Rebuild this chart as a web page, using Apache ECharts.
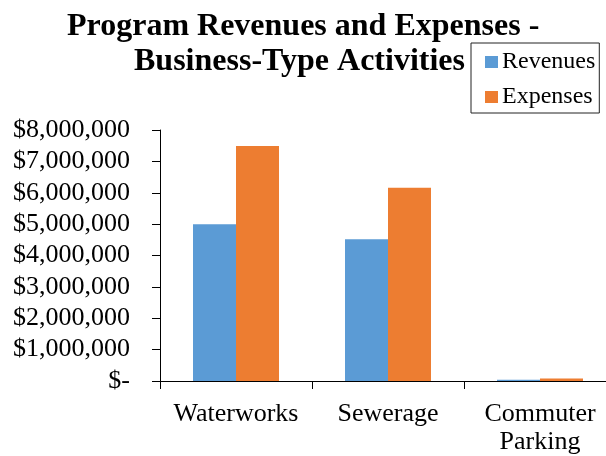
<!DOCTYPE html>
<html>
<head>
<meta charset="utf-8">
<script src="https://cdn.jsdelivr.net/npm/echarts@6/dist/echarts.min.js"></script>
<style>
  html, body { margin: 0; padding: 0; background: #fff; }
  #chart { width: 606px; height: 456px; }
</style>
</head>
<body>
<div id="chart"></div>
<script>
  // data
  const categories = ['Waterworks', 'Sewerage', 'Commuter\nParking'];
  const revenues = [5000000, 4520000, 40000];
  const expenses = [7490000, 6160000, 80000];
  const seriesNames = ['Revenues', 'Expenses'];

  const serif = '"Liberation Serif", "Times New Roman", serif';

  let mycharts = echarts.init(document.getElementById('chart'));
  mycharts.setOption({
    animation: false,
    title: [
      {
        text: 'Program Revenues and Expenses -',
        left: 62, top: 6,
        textStyle: { fontFamily: serif, fontSize: 32, fontWeight: 'bold', color: '#000' }
      },
      {
        text: 'Business-Type Activities',
        left: 129, top: 41,
        textStyle: { fontFamily: serif, fontSize: 32, fontWeight: 'bold', color: '#000' }
      }
    ],
    legend: {
      orient: 'vertical',
      left: 471, top: 43,
      width: 131,
      padding: [7, 4, 4, 14],
      itemGap: 11,
      itemWidth: 13, itemHeight: 12,
      icon: 'rect',
      borderColor: '#222',
      borderWidth: 1,
      textStyle: { fontFamily: serif, fontSize: 24, lineHeight: 24, color: '#000', padding: [0, 0, 0, -1] },
      data: seriesNames
    },
    grid: {
      left: 160, top: 130,
      width: 456, height: 251,
      containLabel: false,
      outerBoundsMode: 'none'
    },
    xAxis: {
      type: 'category',
      data: categories,
      axisLine: { lineStyle: { color: '#000', width: 1 } },
      axisTick: { show: true, length: 8, lineStyle: { color: '#000' } },
      axisLabel: {
        interval: 0, hideOverlap: false,
        fontFamily: serif, fontSize: 26, color: '#000', margin: 19, lineHeight: 28
      }
    },
    yAxis: {
      type: 'value',
      min: 0, max: 8000000, interval: 1000000,
      splitLine: { show: false },
      axisLine: { show: true, lineStyle: { color: '#000', width: 1 } },
      axisTick: { show: true, length: 8, lineStyle: { color: '#000' } },
      axisLabel: {
        fontFamily: serif, fontSize: 26, color: '#000', margin: 30,
        formatter: function (v) {
          return v === 0 ? '$-' : '$' + v.toLocaleString('en-US');
        }
      }
    },
    series: [
      {
        name: seriesNames[0], type: 'bar', data: revenues,
        barWidth: 43, barGap: '0%',
        itemStyle: { color: '#5B9BD5' }
      },
      {
        name: seriesNames[1], type: 'bar', data: expenses,
        barWidth: 43,
        itemStyle: { color: '#ED7D31' }
      }
    ]
  });
</script>
</body>
</html>
